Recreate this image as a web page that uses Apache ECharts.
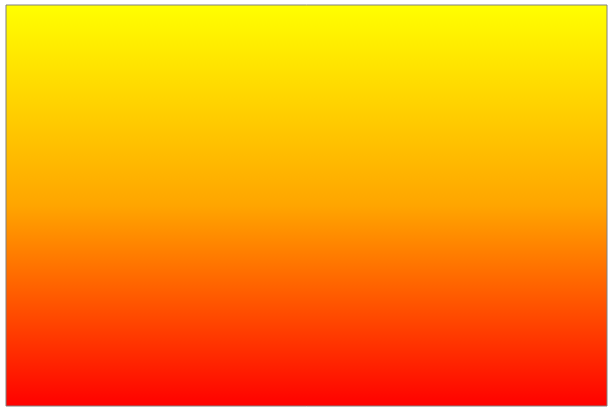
<!DOCTYPE html>
<html>
<head>
<meta charset="utf-8">
<script src="https://cdn.jsdelivr.net/npm/echarts@6/dist/echarts.min.js"></script>
<style>
html,body{margin:0;padding:0;background:#fff;}
#main{width:610px;height:408px;}
</style>
</head>
<body>
<div id="main"></div>
<script>
var categories = [];
var values = [];
var chart = echarts.init(document.getElementById('main'));
chart.setOption({
  animation: false,
  grid: {
    left: 6, top: 5, right: 3, bottom: 2,
    show: true,
    borderColor: '#808080',
    borderWidth: 1,
    backgroundColor: new echarts.graphic.LinearGradient(0, 0, 0, 1, [
      { offset: 0, color: '#ffff00' },
      { offset: 0.5, color: '#ffa500' },
      { offset: 1, color: '#ff0000' }
    ])
  },
  xAxis: { type: 'category', data: categories, show: false },
  yAxis: { type: 'value', show: false },
  series: [{ type: 'bar', data: values }]
});
</script>
</body>
</html>
